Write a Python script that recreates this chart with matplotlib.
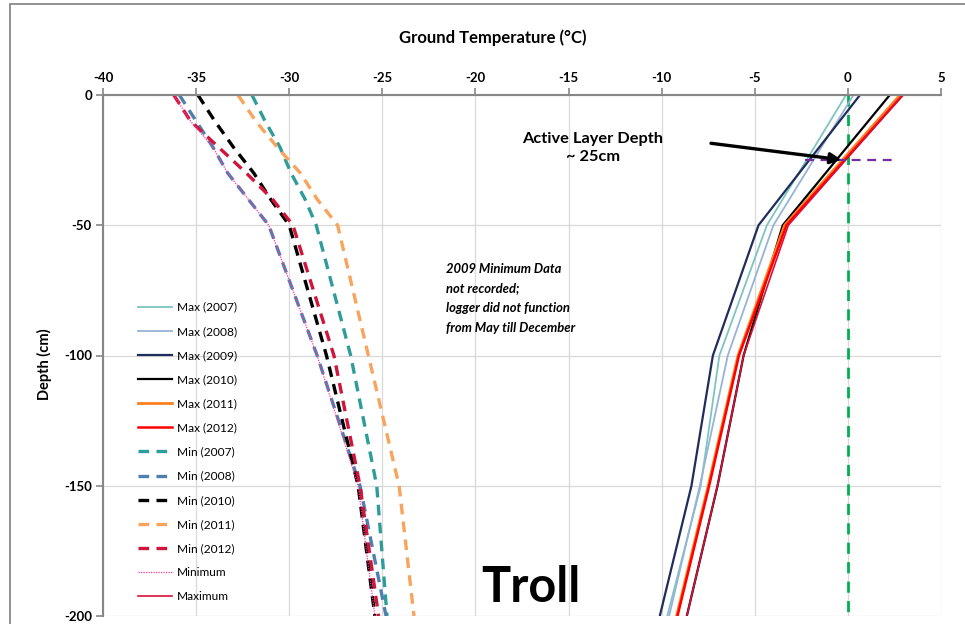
import matplotlib

matplotlib.use("Agg")
import matplotlib.pyplot as plt
from matplotlib.patches import Rectangle

plt.rcParams["font.family"] = ["Lato", "DejaVu Sans"]
plt.rcParams["axes.unicode_minus"] = False

# depths (cm) for the solid "Max" profiles and the dashed "Min" profiles
depth_max = [0, -50, -100, -150, -200]
depth_min = [0, -10, -20, -30, -40, -50, -100, -150, -200]

max_2007 = [-0.1, -4.35, -6.9, -7.9, -9.7]
max_2008 = [0.3, -4.0, -6.45, -7.95, -9.6]
max_2009 = [0.65, -4.8, -7.25, -8.4, -10.1]
max_2010 = [2.25, -3.5, -5.6, -7.0, -8.65]
max_2011 = [2.8, -3.4, -5.9, -7.5, -9.2]
max_2012 = [2.95, -3.3, -5.85, -7.45, -9.15]

min_2007 = [-32.0, -31.3, -30.5, -29.9, -29.15, -28.55, -26.7, -25.3, -24.75]
min_2008 = [-35.9, -35.0, -34.1, -33.3, -32.2, -31.1, -28.5, -26.2, -24.8]
min_2010 = [-34.9, -34.0, -33.0, -31.9, -31.0, -30.0, -28.0, -26.3, -25.4]
min_2011 = [-32.75, -31.8, -30.65, -29.4, -28.5, -27.4, -25.75, -24.1, -23.3]
min_2012 = [-36.2, -35.3, -33.8, -32.3, -30.9, -29.8, -27.6, -26.2, -25.2]

minimum = [-36.2, -35.3, -34.1, -33.3, -32.2, -31.1, -28.5, -26.3, -25.4]
maximum = [2.95, -3.2, -5.6, -7.0, -8.65]

x_ticks = [-40, -35, -30, -25, -20, -15, -10, -5, 0, 5]
y_ticks = [0, -50, -100, -150, -200]

W, H = 965, 624
fig = plt.figure(figsize=(W / 100, H / 100), dpi=100)
fig.patches.append(Rectangle((10 / W, -0.1), 1.2, 1.1 - 4 / H,
                             transform=fig.transFigure, fill=False,
                             edgecolor="#7f7f7f", linewidth=1.2))
ax = fig.add_axes([103 / W, 1 - 616 / H, (941 - 103) / W, (616 - 95) / H])

ax.plot(max_2007, depth_max, color="#7fc4c0", lw=1.3, label="Max (2007)")
ax.plot(max_2008, depth_max, color="#95b3d7", lw=1.3, label="Max (2008)")
ax.plot(max_2009, depth_max, color="#1f2d5a", lw=1.6, label="Max (2009)")
ax.plot(max_2010, depth_max, color="black", lw=1.6, label="Max (2010)")
ax.plot(max_2011, depth_max, color="#ff7f1e", lw=2.0, label="Max (2011)")
ax.plot(max_2012, depth_max, color="#ff0000", lw=1.8, label="Max (2012)")

dash = (0, (3.2, 2.2))
ax.plot(min_2007, depth_min, color="#2e9c98", lw=2.4, ls=dash, label="Min (2007)")
ax.plot(min_2008, depth_min, color="#4f7fae", lw=2.4, ls=dash, label="Min (2008)")
ax.plot(min_2010, depth_min, color="black", lw=2.4, ls=dash, label="Min (2010)")
ax.plot(min_2011, depth_min, color="#f9a45c", lw=2.4, ls=dash, label="Min (2011)")
ax.plot(min_2012, depth_min, color="#d0143a", lw=2.4, ls=dash, label="Min (2012)")
ax.plot(minimum, depth_min, color="#ff3399", lw=0.9, ls=(0, (1, 1)), label="Minimum")
ax.plot(maximum, depth_max, color="#d8103a", lw=1.2, label="Maximum")

# active layer markers
ax.plot([0, 0], [0, -200], color="#00b050", lw=2.0, ls=(0, (4, 3)), zorder=1)
ax.plot([-2.3, 2.6], [-25, -25], color="#7030a0", lw=1.6, ls=(0, (4, 3)))
ax.annotate("", xy=(-0.2, -25), xytext=(-7.5, -18.4),
            arrowprops=dict(arrowstyle="-|>", color="black", lw=2.4,
                            mutation_scale=16))
ax.text(-13.7, -20.5, "Active Layer Depth\n~ 25cm", ha="center", va="center",
        fontsize=11.8, fontweight="bold", linespacing=1.35)
ax.text(-21.6, -64.5, "2009 Minimum Data\nnot recorded;\nlogger did not function\nfrom May till December",
        ha="left", va="top", fontsize=9.4, fontweight="bold", style="italic",
        linespacing=1.75)
ax.text(-17.0, -189, "Troll", ha="center", va="center", fontsize=35,
        fontweight="bold")

ax.set_xlim(-40, 5)
ax.set_ylim(-200, 0)
ax.set_xticks(x_ticks)
ax.set_yticks(y_ticks)
ax.xaxis.tick_top()
ax.tick_params(axis="both", labelsize=9.5, color="#868686", length=5,
               width=1.2, pad=3)
for lab in ax.get_xticklabels() + ax.get_yticklabels():
    lab.set_fontweight("bold")
ax.grid(True, color="#d9d9d9", lw=0.9)
ax.set_axisbelow(True)
for side in ["right", "bottom"]:
    ax.spines[side].set_visible(False)
for side in ["left", "top"]:
    ax.spines[side].set_color("#868686")
    ax.spines[side].set_linewidth(1.5)

fig.text(493 / W, 1 - 38 / H, "Ground Temperature (°C)", ha="center",
         va="center", fontsize=12, fontweight="bold")
ax.set_ylabel("Depth (cm)", fontsize=10.5, fontweight="bold")
ax.yaxis.set_label_coords(-0.061, 0.484)

ax.legend(loc="upper left", bbox_to_anchor=(127 / W, 1 - 291 / H),
          bbox_transform=fig.transFigure, frameon=False, fontsize=8.6,
          handlelength=2.9, handletextpad=0.4, labelspacing=1.1)

fig.savefig("out.png", dpi=100)
